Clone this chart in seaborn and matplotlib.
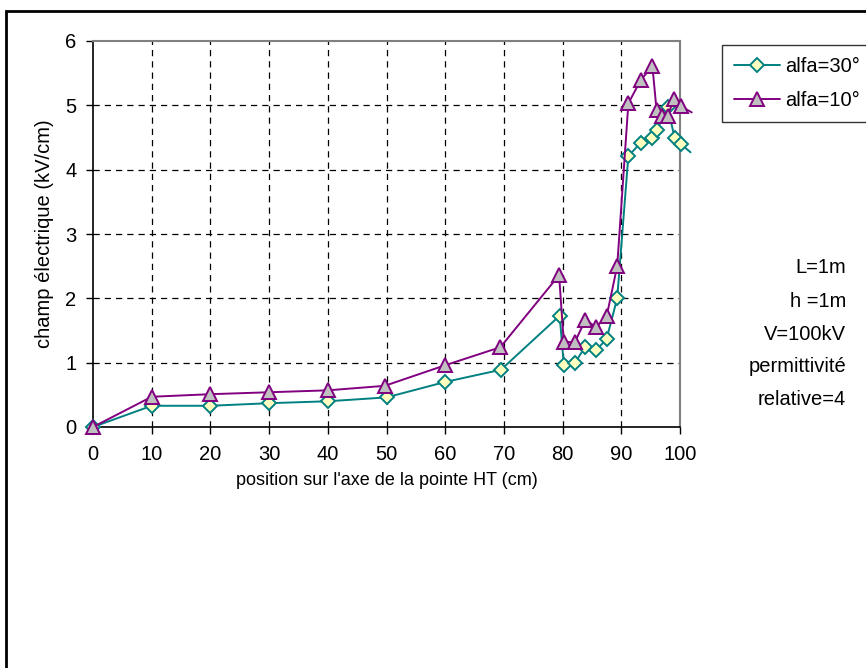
import matplotlib
matplotlib.use("Agg")
import matplotlib.pyplot as plt
import seaborn as sns
import pandas as pd
from matplotlib.patches import Rectangle

# Electric field along the axis of the HV tip, for two cone angles
pos_30 = [0, 10, 20, 30, 40, 50, 60, 69.5, 79.5, 80.2, 82.1, 83.9, 85.7, 87.5,
          89.3, 91.2, 93.3, 95.2, 96.1, 97.9, 99.1, 100.1, 101.8]
field_30 = [0.0, 0.33, 0.33, 0.37, 0.40, 0.46, 0.70, 0.89, 1.73, 0.97, 1.00, 1.25,
            1.19, 1.37, 2.00, 4.21, 4.42, 4.49, 4.62, 4.97, 4.49, 4.40, 4.27]

pos_10 = [0, 10, 20, 30, 40, 49.7, 60, 69.4, 79.4, 80.2, 82.1, 83.9, 85.7, 87.5,
          89.3, 91.2, 93.3, 95.3, 96.0, 96.9, 97.9, 99.0, 100.1, 102.0]
field_10 = [0.0, 0.47, 0.51, 0.54, 0.57, 0.64, 0.96, 1.24, 2.36, 1.32, 1.32, 1.67,
            1.55, 1.72, 2.50, 5.03, 5.39, 5.61, 4.93, 4.84, 4.84, 5.10, 4.99, 4.89]

label_30 = "alfa=30°"
label_10 = "alfa=10°"
x_ticks = [0, 10, 20, 30, 40, 50, 60, 70, 80, 90, 100]
y_ticks = [0, 1, 2, 3, 4, 5, 6]
notes = ["L=1m", "h =1m", "V=100kV", "permittivité", "relative=4"]

sns.set_style("white")
plt.rcParams["font.family"] = ["Liberation Sans", "DejaVu Sans"]
plt.rcParams.update({"text.color": "black", "axes.labelcolor": "black",
                     "xtick.color": "black", "ytick.color": "black"})

fig = plt.figure(figsize=(8.66, 6.68), dpi=100)
ax = fig.add_axes([93 / 866, 1 - 427 / 668, 587 / 866, 386 / 668])

df30 = pd.DataFrame({"x": pos_30, "y": field_30})
df10 = pd.DataFrame({"x": pos_10, "y": field_10})

teal = "#008080"
purple = "#800080"

sns.lineplot(data=df30, x="x", y="y", ax=ax, sort=False, estimator=None,
             color=teal, lw=1.4, marker="D", markersize=7.5,
             markerfacecolor="#FFFFC0", markeredgecolor=teal, markeredgewidth=1.4,
             markevery=list(range(len(pos_30) - 1)), clip_on=False,
             label=label_30, zorder=3)
sns.lineplot(data=df10, x="x", y="y", ax=ax, sort=False, estimator=None,
             color=purple, lw=1.4, marker="^", markersize=10,
             markerfacecolor="#C0C0C0", markeredgecolor=purple, markeredgewidth=1.4,
             markevery=list(range(len(pos_10) - 1)), clip_on=False,
             label=label_10, zorder=4)

ax.set_xlim(0, 100)
ax.set_ylim(0, 6)
ax.set_xticks(x_ticks)
ax.set_yticks(y_ticks)
ax.set_xticklabels([str(t) for t in x_ticks], fontsize=14.5)
ax.set_yticklabels([str(t) for t in y_ticks], fontsize=14.5)
ax.tick_params(axis="both", direction="out", length=5, width=1, color="black",
               bottom=True, left=True)
ax.tick_params(axis="x", pad=8)
ax.tick_params(axis="y", pad=7)

ax.set_xlabel("position sur l'axe de la pointe HT (cm)", fontsize=13, labelpad=6)
ax.set_ylabel("champ électrique (kV/cm)", fontsize=14.5, labelpad=8)

ax.grid(True, color="black", linestyle=(0, (5, 4)), linewidth=0.9)
xg = ax.xaxis.get_gridlines()
yg = ax.yaxis.get_gridlines()
for g in (xg[0], xg[-1], yg[0], yg[-1]):
    g.set_visible(False)

for side in ("left", "bottom"):
    ax.spines[side].set_color("black")
    ax.spines[side].set_linewidth(1.2)
for side in ("top", "right"):
    ax.spines[side].set_color("#808080")
    ax.spines[side].set_linewidth(1.5)
    ax.spines[side].set_visible(True)

leg = ax.legend(loc="upper left", bbox_to_anchor=(722 / 866, 1 - 45 / 668),
                bbox_transform=fig.transFigure, frameon=True, fancybox=False,
                edgecolor="black", fontsize=14.5, handlelength=2.3,
                handletextpad=0.25, borderpad=0.6, labelspacing=0.75,
                borderaxespad=0)
leg.get_frame().set_linewidth(1.0)

for i, line in enumerate(notes):
    fig.text(846 / 866, 1 - (268 + 33 * i) / 668, line, ha="right", va="center",
             fontsize=14.5)

# Outer frame around the whole chart
fig.patches.append(Rectangle((6 / 866, -0.05), 1.1, 1 - 11 / 668 + 0.05,
                             transform=fig.transFigure, fill=False,
                             edgecolor="black", linewidth=2, clip_on=False))

fig.savefig("out.png", dpi=100)
